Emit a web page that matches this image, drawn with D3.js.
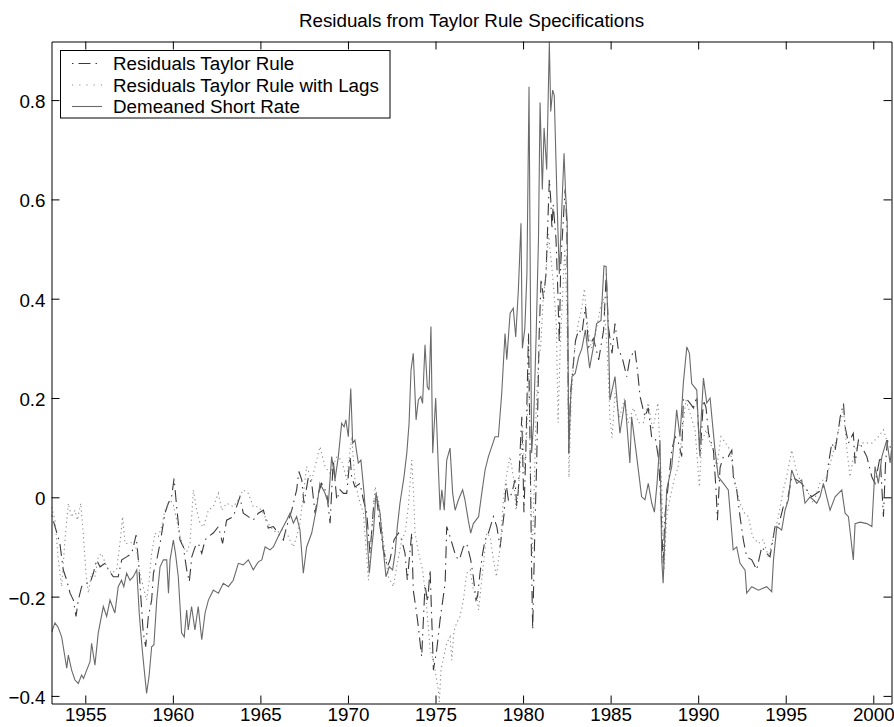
<!DOCTYPE html>
<html>
<head>
<meta charset="utf-8">
<script src="https://cdn.jsdelivr.net/npm/d3@7"></script>
<style>
  html, body { margin: 0; padding: 0; background: #fff; }
  svg { display: block; }
</style>
</head>
<body>
<svg id="chart" width="894" height="727"></svg>
<script>
// ---------------- DATA ----------------
const chartTitle = "Residuals from Taylor Rule Specifications";
const seriesNames = ["Residuals Taylor Rule", "Residuals Taylor Rule with Lags", "Demeaned Short Rate"];
const xTicks = [1955, 1960, 1965, 1970, 1975, 1980, 1985, 1990, 1995, 2000];
const yTicks = [-0.4, -0.2, 0, 0.2, 0.4, 0.6, 0.8];

// Residuals Taylor Rule  [year, value]
const taylorResid = [
[1953.08,-0.036],[1953.27,-0.059],[1953.55,-0.093],[1953.74,-0.146],[1953.94,-0.167],[1954.13,-0.193],
[1954.32,-0.207],[1954.47,-0.240],[1954.60,-0.207],[1954.79,-0.180],[1955.00,-0.173],[1955.27,-0.173],
[1955.46,-0.153],[1955.65,-0.126],[1955.84,-0.140],[1956.13,-0.133],[1956.32,-0.146],[1956.60,-0.160],
[1956.88,-0.160],[1957.08,-0.126],[1957.36,-0.120],[1957.65,-0.113],[1957.90,-0.076],[1958.03,-0.126],
[1958.17,-0.200],[1958.31,-0.273],[1958.45,-0.301],[1958.60,-0.240],[1958.79,-0.207],[1958.89,-0.153],
[1959.08,-0.126],[1959.27,-0.093],[1959.55,-0.032],[1959.74,-0.012],[1959.93,0.001],[1960.07,0.038],
[1960.22,-0.020],[1960.41,-0.086],[1960.60,-0.100],[1960.79,-0.146],[1960.94,-0.170],[1961.08,-0.120],
[1961.27,-0.100],[1961.46,-0.093],[1961.65,-0.113],[1961.84,-0.086],[1962.03,-0.079],[1962.31,-0.072],
[1962.60,-0.059],[1962.84,-0.093],[1963.07,-0.046],[1963.45,-0.039],[1963.83,0.001],[1964.02,-0.032],
[1964.31,-0.039],[1964.59,-0.046],[1964.88,-0.032],[1965.17,-0.026],[1965.45,-0.062],[1965.74,-0.059],
[1966.02,-0.072],[1966.31,-0.086],[1966.50,-0.059],[1966.79,-0.026],[1967.07,0.015],[1967.20,0.052],
[1967.36,0.035],[1967.49,-0.012],[1967.74,0.041],[1967.93,0.028],[1968.12,-0.032],[1968.31,0.008],
[1968.50,0.028],[1968.79,0.008],[1968.98,-0.052],[1969.16,0.075],[1969.36,-0.005],[1969.55,0.015],
[1969.74,0.008],[1969.93,0.008],[1970.12,0.082],[1970.21,0.041],[1970.40,0.021],[1970.69,0.028],
[1970.88,-0.005],[1971.07,-0.032],[1971.26,-0.113],[1971.49,-0.005],[1971.64,-0.001],[1971.83,-0.059],
[1972.02,-0.106],[1972.25,-0.140],[1972.40,-0.126],[1972.63,-0.086],[1972.88,-0.072],[1973.07,-0.086],
[1973.26,-0.113],[1973.39,-0.167],[1973.64,-0.072],[1973.73,-0.187],[1973.92,-0.233],[1974.02,-0.261],
[1974.21,-0.321],[1974.40,-0.177],[1974.55,-0.210],[1974.69,-0.146],[1974.80,-0.260],[1974.88,-0.348],
[1975.07,-0.307],[1975.26,-0.247],[1975.55,-0.173],[1975.64,-0.059],[1975.83,-0.079],[1976.17,-0.120],
[1976.36,-0.126],[1976.59,-0.100],[1976.78,-0.093],[1977.01,-0.126],[1977.16,-0.160],[1977.31,-0.207],
[1977.40,-0.200],[1977.54,-0.153],[1977.69,-0.113],[1977.83,-0.086],[1978.02,-0.072],[1978.31,-0.039],
[1978.50,-0.059],[1978.69,-0.100],[1978.92,-0.032],[1979.03,0.028],[1979.16,-0.005],[1979.35,0.008],
[1979.54,0.035],[1979.64,-0.019],[1979.73,0.015],[1979.86,0.115],[1979.93,0.162],[1980.05,-0.030],
[1980.15,0.080],[1980.31,0.330],[1980.40,0.100],[1980.49,-0.150],[1980.55,-0.267],[1980.65,-0.100],
[1980.78,0.075],[1980.92,0.330],[1981.03,0.440],[1981.17,0.400],[1981.31,0.450],[1981.50,0.640],
[1981.58,0.600],[1981.65,0.540],[1981.72,0.590],[1981.88,0.520],[1981.97,0.430],[1982.07,0.310],
[1982.15,0.470],[1982.30,0.560],[1982.40,0.620],[1982.50,0.550],[1982.61,0.089],[1982.71,0.209],
[1983.00,0.317],[1983.18,0.337],[1983.36,0.330],[1983.56,0.384],[1983.75,0.303],[1984.02,0.320],
[1984.32,0.277],[1984.60,0.337],[1984.75,0.450],[1984.87,0.344],[1985.08,0.290],[1985.25,0.350],
[1985.44,0.297],[1985.65,0.283],[1985.92,0.243],[1986.10,0.280],[1986.39,0.297],[1986.55,0.250],
[1986.68,0.203],[1986.96,0.162],[1987.15,0.180],[1987.34,0.122],[1987.55,0.120],[1987.72,0.082],
[1987.82,0.028],[1988.00,-0.133],[1988.10,-0.039],[1988.30,0.028],[1988.49,0.095],[1988.68,0.122],
[1988.87,0.110],[1989.06,0.082],[1989.15,0.196],[1989.30,0.200],[1989.54,0.189],[1989.73,0.180],
[1989.92,0.203],[1990.11,0.082],[1990.30,0.196],[1990.45,0.180],[1990.59,0.129],[1990.87,0.095],
[1991.02,0.015],[1991.10,-0.046],[1991.25,0.060],[1991.44,0.082],[1991.72,0.082],[1991.92,0.095],
[1992.01,0.041],[1992.20,0.015],[1992.39,-0.039],[1992.58,-0.086],[1992.77,-0.120],[1993.06,-0.126],
[1993.34,-0.146],[1993.63,-0.100],[1993.91,-0.113],[1994.10,-0.120],[1994.39,-0.059],[1994.58,-0.059],
[1994.86,-0.019],[1995.05,-0.015],[1995.34,0.041],[1995.63,0.035],[1995.91,0.028],[1996.20,0.015],
[1996.48,0.001],[1996.77,0.008],[1997.06,0.015],[1997.34,0.035],[1997.44,0.068],[1997.63,0.109],
[1997.82,0.095],[1998.01,0.136],[1998.11,0.162],[1998.30,0.189],[1998.39,0.142],[1998.58,0.109],
[1998.86,0.129],[1998.96,0.068],[1999.15,0.115],[1999.44,0.095],[1999.63,0.082],[1999.92,0.041],
[2000.10,0.028],[2000.39,0.082],[2000.58,-0.039],[2000.70,0.068],[2000.81,0.115],[2001.04,0.095]
];

// Residuals Taylor Rule with Lags  [year, value]
const taylorLagResid = [
[1953.08,-0.020],[1953.27,-0.046],[1953.46,-0.126],[1953.65,-0.180],[1953.84,-0.086],[1954.03,-0.012],
[1954.22,-0.040],[1954.41,-0.026],[1954.55,-0.046],[1954.74,-0.012],[1954.88,-0.072],[1955.04,-0.153],
[1955.18,-0.193],[1955.36,-0.153],[1955.55,-0.160],[1955.74,-0.120],[1955.93,-0.113],[1956.22,-0.140],
[1956.50,-0.153],[1956.79,-0.146],[1956.98,-0.093],[1957.13,-0.039],[1957.27,-0.093],[1957.46,-0.093],
[1957.74,-0.090],[1957.94,-0.106],[1958.12,-0.153],[1958.31,-0.180],[1958.50,-0.207],[1958.64,-0.170],
[1958.79,-0.113],[1958.98,-0.072],[1959.17,-0.079],[1959.36,-0.059],[1959.55,-0.026],[1959.84,-0.005],
[1960.03,-0.015],[1960.22,-0.046],[1960.41,-0.079],[1960.60,-0.100],[1960.79,-0.110],[1960.98,-0.093],
[1961.17,0.015],[1961.36,-0.026],[1961.55,-0.052],[1961.74,-0.060],[1962.03,-0.026],[1962.31,-0.019],
[1962.60,0.008],[1962.79,-0.026],[1963.07,-0.012],[1963.45,-0.019],[1963.74,-0.005],[1964.02,0.015],
[1964.31,0.008],[1964.59,-0.019],[1964.88,-0.019],[1965.17,-0.032],[1965.55,-0.059],[1965.93,-0.072],
[1966.22,-0.065],[1966.50,-0.072],[1966.69,-0.086],[1966.88,-0.100],[1967.07,-0.079],[1967.26,-0.052],
[1967.64,0.062],[1967.93,0.035],[1968.40,0.102],[1968.69,0.062],[1968.98,0.048],[1969.36,0.082],
[1969.64,0.075],[1969.93,0.035],[1970.21,0.122],[1970.40,0.035],[1970.59,0.001],[1970.88,-0.032],
[1971.17,-0.167],[1971.36,-0.070],[1971.55,0.021],[1971.74,-0.005],[1972.02,-0.086],[1972.31,-0.160],
[1972.59,-0.180],[1972.78,-0.140],[1973.07,-0.086],[1973.26,-0.072],[1973.45,-0.019],[1973.64,0.075],
[1973.73,0.020],[1973.83,-0.072],[1974.02,-0.110],[1974.26,-0.146],[1974.45,-0.200],[1974.69,-0.307],
[1974.88,-0.328],[1975.16,-0.388],[1975.22,-0.412],[1975.31,-0.348],[1975.64,-0.294],[1975.83,-0.281],
[1975.93,-0.328],[1976.05,-0.270],[1976.20,-0.254],[1976.40,-0.240],[1976.59,-0.207],[1976.78,-0.153],
[1976.98,-0.146],[1977.16,-0.187],[1977.35,-0.200],[1977.46,-0.227],[1977.60,-0.180],[1977.92,-0.072],
[1978.12,-0.079],[1978.31,-0.126],[1978.48,-0.160],[1978.69,-0.100],[1978.88,-0.005],[1979.07,0.048],
[1979.26,0.082],[1979.45,0.040],[1979.60,-0.026],[1979.75,0.021],[1979.88,0.082],[1979.97,0.142],
[1980.08,0.050],[1980.20,0.120],[1980.32,0.250],[1980.42,0.050],[1980.52,-0.120],[1980.62,0.000],
[1980.75,0.180],[1980.88,0.280],[1981.00,0.300],[1981.15,0.400],[1981.30,0.450],[1981.45,0.530],
[1981.60,0.480],[1981.75,0.420],[1981.90,0.350],[1982.00,0.150],[1982.12,0.300],[1982.25,0.400],
[1982.38,0.500],[1982.50,0.380],[1982.62,0.040],[1982.75,0.200],[1982.95,0.300],[1983.15,0.350],
[1983.35,0.380],[1983.50,0.420],[1983.70,0.340],[1983.90,0.300],[1984.15,0.330],[1984.40,0.380],
[1984.60,0.400],[1984.80,0.300],[1984.96,0.160],[1985.08,0.120],[1985.25,0.210],[1985.50,0.160],
[1985.80,0.200],[1986.00,0.150],[1986.30,0.180],[1986.60,0.150],[1986.87,0.150],[1987.15,0.190],
[1987.40,0.136],[1987.70,0.190],[1987.92,0.015],[1988.05,-0.146],[1988.20,-0.039],[1988.40,0.000],
[1988.62,0.035],[1988.85,0.060],[1989.06,0.122],[1989.30,0.196],[1989.54,0.169],[1989.82,0.136],
[1990.07,0.021],[1990.20,0.110],[1990.45,0.136],[1990.68,0.109],[1990.87,0.095],[1991.06,0.060],
[1991.30,0.122],[1991.55,0.110],[1991.82,0.095],[1992.10,0.030],[1992.39,-0.012],[1992.60,-0.030],
[1992.87,-0.039],[1993.10,-0.079],[1993.44,-0.093],[1993.72,-0.085],[1994.01,-0.120],[1994.30,-0.080],
[1994.58,-0.039],[1994.86,0.015],[1995.05,0.041],[1995.34,0.095],[1995.63,0.050],[1995.91,0.028],
[1996.20,0.015],[1996.58,-0.012],[1996.96,0.030],[1997.34,0.041],[1997.63,0.080],[1997.92,0.122],
[1998.11,0.149],[1998.30,0.176],[1998.48,0.100],[1998.67,0.041],[1998.86,0.080],[1999.05,0.102],
[1999.44,0.110],[1999.92,0.109],[2000.29,0.122],[2000.58,0.136],[2000.81,0.110],[2001.04,0.115]
];

// Demeaned Short Rate  [year, value]
const shortRate = [
[1953.08,-0.271],[1953.27,-0.253],[1953.45,-0.262],[1953.65,-0.281],[1953.94,-0.344],[1954.03,-0.318],
[1954.22,-0.348],[1954.41,-0.368],[1954.60,-0.375],[1954.79,-0.358],[1954.90,-0.365],[1955.08,-0.348],
[1955.27,-0.331],[1955.36,-0.294],[1955.55,-0.338],[1955.74,-0.273],[1956.03,-0.220],[1956.22,-0.240],
[1956.41,-0.207],[1956.69,-0.233],[1956.88,-0.180],[1957.07,-0.167],[1957.20,-0.180],[1957.36,-0.153],
[1957.55,-0.167],[1957.74,-0.160],[1957.94,-0.146],[1958.08,-0.233],[1958.22,-0.294],[1958.31,-0.328],
[1958.50,-0.395],[1958.64,-0.361],[1958.79,-0.301],[1958.92,-0.297],[1959.08,-0.207],[1959.27,-0.140],
[1959.46,-0.126],[1959.65,-0.126],[1959.75,-0.193],[1959.84,-0.126],[1960.03,-0.086],[1960.15,-0.113],
[1960.31,-0.160],[1960.50,-0.273],[1960.65,-0.281],[1960.79,-0.227],[1960.88,-0.267],[1961.07,-0.220],
[1961.26,-0.267],[1961.45,-0.220],[1961.65,-0.287],[1961.84,-0.233],[1962.03,-0.207],[1962.31,-0.187],
[1962.60,-0.193],[1962.88,-0.173],[1963.17,-0.180],[1963.45,-0.167],[1963.74,-0.133],[1964.02,-0.136],
[1964.31,-0.126],[1964.59,-0.146],[1964.88,-0.130],[1965.08,-0.126],[1965.27,-0.100],[1965.55,-0.106],
[1965.74,-0.100],[1966.02,-0.079],[1966.31,-0.059],[1966.50,-0.046],[1966.69,-0.032],[1966.88,-0.052],
[1967.07,-0.039],[1967.26,-0.066],[1967.45,-0.153],[1967.64,-0.100],[1967.93,-0.072],[1968.22,-0.019],
[1968.40,0.028],[1968.69,0.008],[1968.88,-0.012],[1969.07,0.082],[1969.26,0.035],[1969.45,0.082],
[1969.64,0.149],[1969.78,0.142],[1969.88,0.156],[1970.02,0.122],[1970.16,0.219],[1970.27,0.109],
[1970.40,0.115],[1970.59,0.069],[1970.74,0.075],[1970.92,0.009],[1971.07,-0.066],[1971.22,-0.153],
[1971.36,-0.100],[1971.45,-0.072],[1971.60,0.009],[1971.83,-0.032],[1972.02,-0.106],[1972.17,-0.160],
[1972.36,-0.140],[1972.55,-0.146],[1972.69,-0.113],[1972.82,-0.059],[1972.97,-0.012],[1973.20,0.041],
[1973.36,0.089],[1973.49,0.149],[1973.60,0.256],[1973.73,0.290],[1973.89,0.156],[1974.02,0.196],
[1974.16,0.203],[1974.26,0.189],[1974.40,0.307],[1974.53,0.223],[1974.63,0.216],[1974.74,0.344],
[1974.84,0.089],[1975.01,0.200],[1975.16,0.062],[1975.26,-0.026],[1975.36,0.015],[1975.50,-0.026],
[1975.64,0.075],[1975.83,0.099],[1975.98,0.008],[1976.12,-0.026],[1976.31,-0.005],[1976.55,0.015],
[1976.68,-0.005],[1976.87,-0.046],[1977.01,-0.072],[1977.16,-0.053],[1977.31,-0.046],[1977.46,-0.039],
[1977.64,0.008],[1977.83,0.055],[1978.02,0.082],[1978.21,0.102],[1978.40,0.122],[1978.59,0.122],
[1978.78,0.209],[1978.97,0.330],[1979.07,0.277],[1979.26,0.371],[1979.44,0.381],[1979.58,0.323],
[1979.73,0.417],[1979.88,0.552],[1979.96,0.300],[1980.10,0.340],[1980.22,0.450],[1980.34,0.827],
[1980.42,0.400],[1980.49,0.089],[1980.60,0.150],[1980.75,0.330],[1980.88,0.520],[1980.97,0.795],
[1981.10,0.620],[1981.20,0.744],[1981.35,0.660],[1981.50,0.917],[1981.58,0.777],[1981.69,0.820],
[1981.78,0.810],[1981.95,0.585],[1982.07,0.450],[1982.20,0.572],[1982.34,0.693],[1982.43,0.612],
[1982.52,0.555],[1982.61,0.089],[1982.71,0.196],[1982.79,0.243],[1982.98,0.250],[1983.18,0.283],
[1983.36,0.300],[1983.56,0.337],[1983.80,0.260],[1984.00,0.300],[1984.20,0.350],[1984.45,0.356],
[1984.62,0.466],[1984.74,0.465],[1984.87,0.331],[1984.96,0.196],[1985.25,0.243],[1985.53,0.129],
[1985.82,0.196],[1986.10,0.069],[1986.20,0.162],[1986.49,0.082],[1986.77,0.001],[1986.96,-0.005],
[1987.15,0.028],[1987.35,-0.012],[1987.50,-0.030],[1987.65,0.028],[1987.82,0.115],[1987.92,-0.126],
[1988.00,-0.173],[1988.20,0.015],[1988.49,0.062],[1988.68,0.136],[1988.77,0.176],[1988.96,0.122],
[1989.15,0.229],[1989.35,0.303],[1989.50,0.290],[1989.63,0.229],[1989.92,0.216],[1990.07,0.095],
[1990.30,0.240],[1990.49,0.190],[1990.68,0.200],[1990.96,0.095],[1991.15,0.041],[1991.44,0.028],
[1991.72,0.015],[1992.00,-0.106],[1992.20,-0.100],[1992.39,-0.133],[1992.68,-0.147],[1992.77,-0.193],
[1993.06,-0.180],[1993.44,-0.187],[1993.91,-0.180],[1994.20,-0.190],[1994.30,-0.126],[1994.49,-0.059],
[1994.77,-0.066],[1994.96,-0.026],[1995.15,-0.005],[1995.34,0.055],[1995.63,0.028],[1995.91,0.035],
[1996.10,-0.012],[1996.39,0.001],[1996.77,-0.012],[1996.96,0.001],[1997.15,0.028],[1997.53,-0.026],
[1997.82,0.001],[1998.20,0.015],[1998.39,-0.032],[1998.58,-0.039],[1998.86,-0.126],[1998.96,-0.053],
[1999.25,-0.050],[1999.63,-0.053],[1999.92,-0.059],[2000.10,0.062],[2000.29,0.028],[2000.49,0.082],
[2000.77,0.115],[2000.96,0.069],[2001.04,0.095]
];

// ---------------- DRAWING ----------------
const svg = d3.select("#chart");
const W = 894, H = 727;
const plot = { left: 51.5, right: 891.5, top: 41.5, bottom: 703.5 };
const FONT = "'Liberation Sans', Arial, Helvetica, sans-serif";
const FS = "18.8px";

svg.append("rect").attr("width", W).attr("height", H).attr("fill", "#fff");

const x = d3.scaleLinear().domain([1953.07, 2001.04]).range([plot.left, plot.right]);
const y = d3.scaleLinear().domain([-0.4153, 0.918]).range([plot.bottom, plot.top]);

svg.append("defs").append("clipPath").attr("id", "clip")
  .append("rect")
  .attr("x", plot.left).attr("y", plot.top)
  .attr("width", plot.right - plot.left).attr("height", plot.bottom - plot.top);

const styles = [
  { data: taylorResid,    color: "#3a3a3a", dash: "12,5,1.5,5", offset: 17, width: 1.1 },
  { data: taylorLagResid, color: "#8c8c8c", dash: "1.2,3.3",    offset: 0,  width: 1.1 },
  { data: shortRate,      color: "#6a6a6a", dash: null,         offset: 0,  width: 1.1 }
];

const line = d3.line().x(d => x(d[0])).y(d => y(d[1]));
const lines = svg.append("g").attr("clip-path", "url(#clip)");
styles.forEach(s => {
  lines.append("path")
    .datum(s.data)
    .attr("d", line)
    .attr("fill", "none")
    .attr("stroke", s.color)
    .attr("stroke-width", s.width)
    .attr("stroke-dasharray", s.dash)
    .attr("stroke-dashoffset", s.offset);
});

// Axes (MATLAB box with inward ticks on all sides)
const yFmt = d => d === 0 ? "0" : d3.format(".1f")(d);
const gB = svg.append("g").attr("transform", `translate(0,${plot.bottom})`)
  .call(d3.axisBottom(x).tickValues(xTicks).tickFormat(d3.format("d")).tickSize(-8).tickSizeOuter(0).tickPadding(5));
const gL = svg.append("g").attr("transform", `translate(${plot.left},0)`)
  .call(d3.axisLeft(y).tickValues(yTicks).tickFormat(yFmt).tickSize(-8).tickSizeOuter(0).tickPadding(6));
const gT = svg.append("g").attr("transform", `translate(0,${plot.top})`)
  .call(d3.axisTop(x).tickValues(xTicks).tickFormat("").tickSize(-8).tickSizeOuter(0));
const gR = svg.append("g").attr("transform", `translate(${plot.right},0)`)
  .call(d3.axisRight(y).tickValues(yTicks).tickFormat("").tickSize(-8).tickSizeOuter(0));

[gB, gL, gT, gR].forEach(g => {
  g.attr("font-family", FONT).attr("font-size", FS);
  g.selectAll("path.domain").attr("stroke", "#000").attr("stroke-width", 1);
  g.selectAll(".tick line").attr("stroke", "#000").attr("stroke-width", 1);
  g.selectAll(".tick text").attr("fill", "#000");
});
gL.selectAll(".tick text").attr("dy", "0.4em");
gB.selectAll(".tick text").attr("dy", "0.69em");

// Title
svg.append("text")
  .attr("x", (plot.left + plot.right) / 2)
  .attr("y", 27)
  .attr("text-anchor", "middle")
  .attr("font-family", FONT).attr("font-size", FS).attr("fill", "#000")
  .text(chartTitle);

// Legend
const lg = svg.append("g");
lg.append("rect")
  .attr("x", 60.5).attr("y", 50.5).attr("width", 329.5).attr("height", 67.5)
  .attr("fill", "#fff").attr("stroke", "#000").attr("stroke-width", 1);
const rowY = [63.5, 85, 106.5];
seriesNames.forEach((name, i) => {
  const s = styles[i];
  lg.append("line")
    .attr("x1", 72).attr("x2", 102).attr("y1", rowY[i]).attr("y2", rowY[i])
    .attr("stroke", s.color).attr("stroke-width", s.width)
    .attr("stroke-dasharray", i === 1 ? "1.2,6" : s.dash)
    .attr("stroke-dashoffset", s.offset);
  lg.append("text")
    .attr("x", 113).attr("y", rowY[i] + 6.7)
    .attr("font-family", FONT).attr("font-size", FS).attr("fill", "#000")
    .text(name);
});
</script>
</body>
</html>
